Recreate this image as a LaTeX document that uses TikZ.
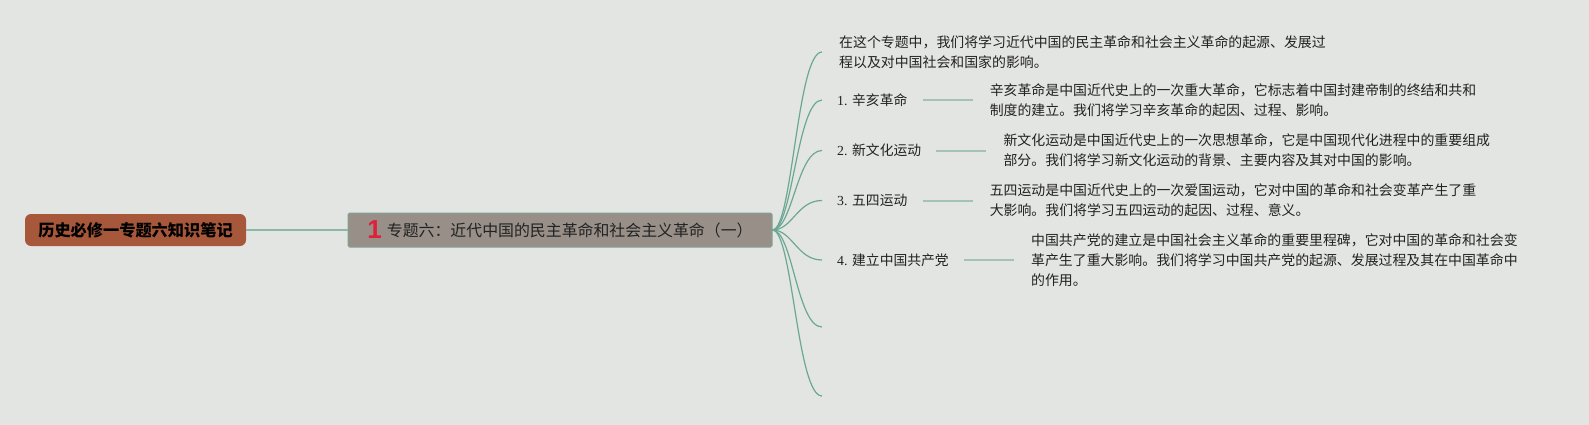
\documentclass[tikz,border=0pt]{standalone}
\usepackage{fontspec}
\setmainfont{Liberation Serif}
\newfontfamily\cjk{Noto Sans CJK SC}
\newfontfamily\marksf{Liberation Sans}
\usepackage{tikz}
\usetikzlibrary{positioning}
\definecolor{bgcol}{HTML}{E3E5E2}
\definecolor{rootcol}{HTML}{A8583A}
\definecolor{maincol}{HTML}{978F88}
\definecolor{mainedge}{HTML}{7FA397}
\definecolor{linkcol}{HTML}{8DB8A8}
\definecolor{branchcol}{HTML}{6BA893}
\definecolor{tiecol}{HTML}{A3C3B7}
\definecolor{markred}{HTML}{E0203A}
\definecolor{inkcol}{HTML}{222222}

\begin{document}
\begin{tikzpicture}[x=1pt, y=-1pt, every node/.style={inner sep=0pt, text=inkcol},
	rootbox/.style={fill=rootcol, rounded corners=6pt, minimum width=221pt, minimum height=32pt, font=\cjk\bfseries\fontsize{16.2}{18}\selectfont, text=black},
	mainbox/.style={fill=maincol, draw=mainedge, line width=1pt, rounded corners=1.5pt, minimum width=424pt, minimum height=34pt, font=\cjk\fontsize{15.9}{18}\selectfont},
	topic/.style={inner xsep=15pt, font=\fontsize{13.8}{20}\selectfont},
	note/.style={inner xsep=17pt, align=left, font=\cjk\fontsize{13.9}{20}\selectfont},
	link/.style={linkcol, line width=2pt},
	branch/.style={branchcol, line width=1.2pt},
	tie/.style={tiecol, line width=2pt}]
	\fill[bgcol] (0,0) rectangle (1589,425);
	\useasboundingbox (0,0) rectangle (1589,425);
	\node[rootbox] (root) at (135.5,230) {历史必修一专题六知识笔记};
	\node[mainbox] (main) at (560,230) {\raisebox{-2pt}{\textcolor{markred}{\marksf\bfseries\fontsize{26}{26}\selectfont 1}}\hspace{5pt}专题六：近代中国的民主革命和社会主义革命（一）};
	\node[note, anchor=west] (intro) at (822,52) {在这个专题中，我们将学习近代中国的民主革命和社会主义革命的起源、发展过\\程以及对中国社会和国家的影响。};
	\node[topic, anchor=west] (t1) at (822,100) {1. {\cjk 辛亥革命}};
	\node[note, right=50pt of t1] (d1) {辛亥革命是中国近代史上的一次重大革命，它标志着中国封建帝制的终结和共和\\制度的建立。我们将学习辛亥革命的起因、过程、影响。};
	\node[topic, anchor=west] (t2) at (822,150.5) {2. {\cjk 新文化运动}};
	\node[note, right=50pt of t2] (d2) {新文化运动是中国近代史上的一次思想革命，它是中国现代化进程中的重要组成\\部分。我们将学习新文化运动的背景、主要内容及其对中国的影响。};
	\node[topic, anchor=west] (t3) at (822,200.5) {3. {\cjk 五四运动}};
	\node[note, right=50pt of t3] (d3) {五四运动是中国近代史上的一次爱国运动，它对中国的革命和社会变革产生了重\\大影响。我们将学习五四运动的起因、过程、意义。};
	\node[topic, anchor=west] (t4) at (822,260) {4. {\cjk 建立中国共产党}};
	\node[note, right=50pt of t4] (d4) {中国共产党的建立是中国社会主义革命的重要里程碑，它对中国的革命和社会变\\革产生了重大影响。我们将学习中国共产党的起源、发展过程及其在中国革命中\\的作用。};
	\coordinate (e5) at (822,327);
	\coordinate (e6) at (822,396);
	\draw[link] (root.east) -- (main.west);
	\foreach \n in {intro,t1,t2,t3,t4}
		\draw[branch] (main.east) .. controls +(20,0) and +(-25,0) .. (\n.west);
	\foreach \n in {e5,e6}
		\draw[branch] (main.east) .. controls +(20,0) and +(-25,0) .. (\n);
	\foreach \n in {1,...,4}
		\draw[tie] (t\n.east) -- (d\n.west);
\end{tikzpicture}
\end{document}
